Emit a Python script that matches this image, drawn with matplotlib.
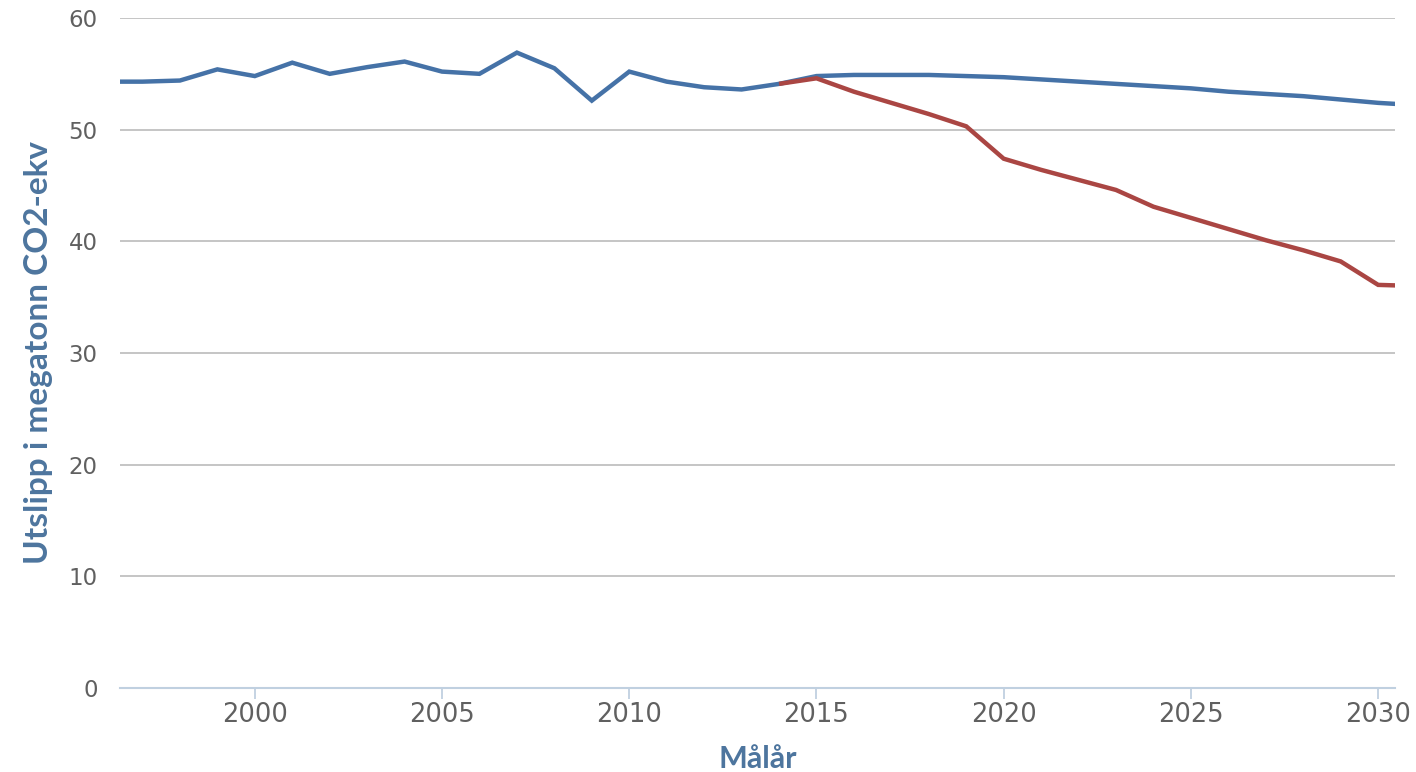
#!/usr/bin/env python3
"""Utslipp i megatonn CO2-ekv: historic + reference path vs. target path."""

import matplotlib

matplotlib.use("Agg")
import matplotlib.pyplot as plt

# blue: historic emissions and reference projection
blue_years = list(range(1996, 2032))
blue_values = [
    54.3, 54.3, 54.4, 55.4, 54.8, 56.0, 55.0, 55.6, 56.1, 55.2,
    55.0, 56.9, 55.5, 52.6, 55.2, 54.3, 53.8, 53.6, 54.1, 54.8,
    54.9, 54.9, 54.9, 54.8, 54.7, 54.5, 54.3, 54.1, 53.9, 53.7,
    53.4, 53.2, 53.0, 52.7, 52.4, 52.2,
]

# red: target path
red_years = list(range(2014, 2032))
red_values = [
    54.1, 54.6, 53.4, 52.4, 51.4, 50.3, 47.4, 46.4, 45.5, 44.6,
    43.1, 42.1, 41.1, 40.1, 39.2, 38.2, 36.1, 36.0,
]

x_ticks = [2000, 2005, 2010, 2015, 2020, 2025, 2030]
y_ticks = [0, 10, 20, 30, 40, 50, 60]

BLUE = "#4572A7"
RED = "#AA4643"
TITLE_COLOR = "#4d759e"
LABEL_COLOR = "#606060"
TITLE_FONT = ["Lato", "Liberation Sans", "DejaVu Sans"]

fig = plt.figure(figsize=(14.16, 7.72), dpi=100)
ax = fig.add_axes([120 / 1416, 1 - 688 / 772, 1275 / 1416, 670 / 772])

ax.plot(blue_years, blue_values, color=BLUE, linewidth=3.2, zorder=3,
        solid_joinstyle="miter", solid_capstyle="butt")
ax.plot(red_years, red_values, color=RED, linewidth=3.2, zorder=4,
        solid_joinstyle="miter", solid_capstyle="butt")

ax.set_xlim(1996.4, 2030.45)
ax.set_ylim(0, 60)
ax.set_xticks(x_ticks)
ax.set_yticks(y_ticks)
ax.set_xticklabels([str(v) for v in x_ticks])
ax.set_yticklabels([str(v) for v in y_ticks])

ax.grid(axis="y", color="#C0C0C0", linewidth=1.3, zorder=1)
ax.set_axisbelow(True)
for side in ("top", "right", "left"):
    ax.spines[side].set_visible(False)
ax.spines["bottom"].set_color("#C0D0E0")
ax.spines["bottom"].set_linewidth(1.5)
ax.spines["bottom"].set_zorder(2)

ax.tick_params(axis="x", direction="out", length=8, width=1.3,
               color="#C0D0E0", labelsize=18.5, labelcolor=LABEL_COLOR, pad=2)
ax.tick_params(axis="y", length=0, labelsize=16.5, labelcolor=LABEL_COLOR, pad=16)

ax.set_ylabel("Utslipp i megatonn CO2-ekv", family=TITLE_FONT, fontsize=24,
              fontweight="bold", color=TITLE_COLOR, labelpad=11)
ax.set_xlabel("Målår", family=TITLE_FONT, fontsize=22, fontweight="bold",
              color=TITLE_COLOR, labelpad=12)

fig.savefig("out.png", dpi=100)
plt.close(fig)
